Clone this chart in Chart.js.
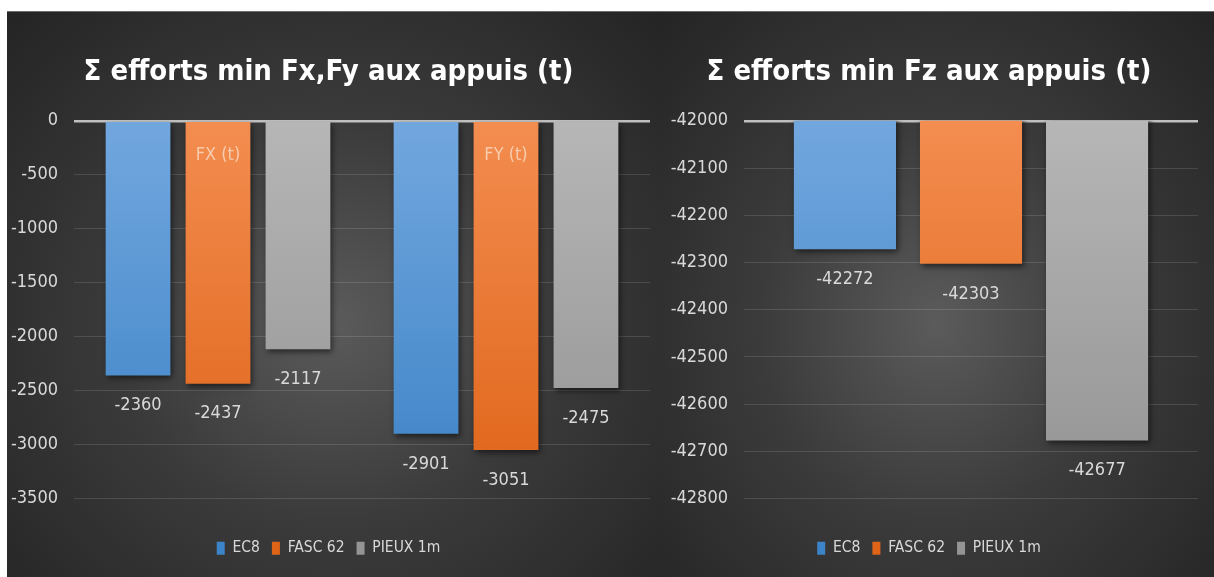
<!DOCTYPE html>
<html lang="fr">
<head>
<meta charset="utf-8">
<title>Σ efforts min aux appuis</title>
<script src="https://cdn.jsdelivr.net/npm/chart.js@4.4.1/dist/chart.umd.min.js"></script>
<style>
  html, body { margin: 0; padding: 0; background: #fff; }
  #panel { position: absolute; left: 7px; top: 11px; width: 1207px; height: 566px; display: flex; }
  .box {
    position: relative; height: 566px;
    background: radial-gradient(ellipse farthest-corner at 50% 55%, #5b5b5b 0%, #3b3b3b 45%, #242424 100%);
    box-shadow: inset 0 1px 0 #6e6e6e;
  }
  #boxXY { width: 653px; }
  #boxZ { width: 554px; }
  canvas { display: block; }
</style>
</head>
<body>
<div id="panel">
  <div class="box" id="boxXY"><canvas id="chartXY" width="653" height="566"></canvas></div>
  <div class="box" id="boxZ"><canvas id="chartZ" width="554" height="566"></canvas></div>
</div>
<script>
// séries
const seriesNames = ['EC8', 'FASC 62', 'PIEUX 1m'];

// graphique 1 : Fx, Fy
const categoriesXY = ['FX (t)', 'FY (t)'];
const ec8XY = [-2360, -2901];
const fascXY = [-2437, -3051];
const pieuxXY = [-2117, -2475];
const ticksXY = { min: -3500, max: 0, step: 500 };

// graphique 2 : Fz
const categoriesZ = ['FZ (t)'];
const ec8Z = [-42272];
const fascZ = [-42303];
const pieuxZ = [-42677];
const ticksZ = { min: -42800, max: -42000, step: 100 };

const FONT = "'DejaVu Sans Condensed', 'DejaVu Sans', sans-serif";

// dégradés verticaux des barres
const palette = [
    ['#72a7de', '#3d83c7'],
    ['#f38d50', '#df6418'],
    ['#b6b6b6', '#949494']
];

function barGradient(i) {
    return (ctx) => {
        const area = ctx.chart.chartArea;
        if (!area) return palette[i][0];
        const g = ctx.chart.ctx.createLinearGradient(0, area.top, 0, area.bottom);
        g.addColorStop(0, palette[i][0]);
        g.addColorStop(1, palette[i][1]);
        return g;
    };
}

// ombre portée sous les barres
const barShadow = {
    id: 'barShadow',
    beforeDatasetsDraw(chart) {
        const ctx = chart.ctx;
        ctx.save();
        ctx.shadowColor = 'rgba(0, 0, 0, 0.55)';
        ctx.shadowBlur = 6;
        ctx.shadowOffsetX = 2;
        ctx.shadowOffsetY = 3;
    },
    afterDatasetsDraw(chart) {
        chart.ctx.restore();
    }
};

// étiquettes : valeur sous la barre, catégorie dans la barre FASC 62
const barLabels = {
    id: 'barLabels',
    afterDatasetsDraw(chart) {
        const ctx = chart.ctx;
        ctx.save();
        ctx.textAlign = 'center';
        ctx.textBaseline = 'middle';
        ctx.font = '18px ' + FONT;
        chart.data.datasets.forEach((ds, i) => {
            chart.getDatasetMeta(i).data.forEach((bar, j) => {
                ctx.fillStyle = '#d9d9d9';
                ctx.fillText(String(ds.data[j]), bar.x, bar.y + 30);
                if (i === 1) {
                    ctx.fillStyle = '#f8cbad';
                    ctx.fillText(chart.data.labels[j], bar.x, bar.base + 33);
                }
            });
        });
        ctx.restore();
    }
};

function makeChart(id, title, labels, values, ticks, axisWidth, padRight) {
    const ctx = document.getElementById(id).getContext('2d');
    return new Chart(ctx, {
        type: 'bar',
        data: {
            labels,
            datasets: values.map((data, i) => ({
                label: seriesNames[i],
                data,
                backgroundColor: barGradient(i),
                borderWidth: 0,
                categoryPercentage: 0.833,
                barPercentage: 0.81
            }))
        },
        options: {
            responsive: false,
            animation: false,
            layout: { padding: { left: 0, right: padRight, top: 0, bottom: 11 } },
            scales: {
                x: {
                    grid: { display: false },
                    border: { display: false },
                    ticks: { display: false },
                    afterFit: (s) => { s.height = 30; }
                },
                y: {
                    min: ticks.min,
                    max: ticks.max,
                    border: { display: false },
                    grid: {
                        drawTicks: false,
                        color: (c) => c.tick && c.tick.value === ticks.max ? '#bfbfbf' : 'rgba(255, 255, 255, 0.13)',
                        lineWidth: (c) => c.tick && c.tick.value === ticks.max ? 2.5 : 1
                    },
                    ticks: {
                        stepSize: ticks.step,
                        padding: 16,
                        color: '#d9d9d9',
                        font: { family: FONT, size: 18 },
                        callback: (v) => String(v)
                    },
                    afterFit: (s) => { s.width = axisWidth; }
                }
            },
            plugins: {
                title: {
                    display: true,
                    text: title,
                    color: '#ffffff',
                    font: { family: FONT, size: 29, weight: 'bold' },
                    padding: { top: 44, bottom: 31 }
                },
                legend: {
                    position: 'bottom',
                    labels: {
                        color: '#d9d9d9',
                        boxWidth: 8,
                        boxHeight: 13,
                        padding: 12,
                        font: { family: FONT, size: 15.5 }
                    }
                },
                tooltip: { enabled: false }
            }
        },
        plugins: [barShadow, barLabels]
    });
}

document.addEventListener('DOMContentLoaded', () => {
    makeChart('chartXY', 'Σ efforts min Fx,Fy aux appuis (t)', categoriesXY,
        [ec8XY, fascXY, pieuxXY], ticksXY, 67, 10);
    makeChart('chartZ', 'Σ efforts min Fz aux appuis (t)', categoriesZ,
        [ec8Z, fascZ, pieuxZ], ticksZ, 84, 16);
});
</script>
</body>
</html>
